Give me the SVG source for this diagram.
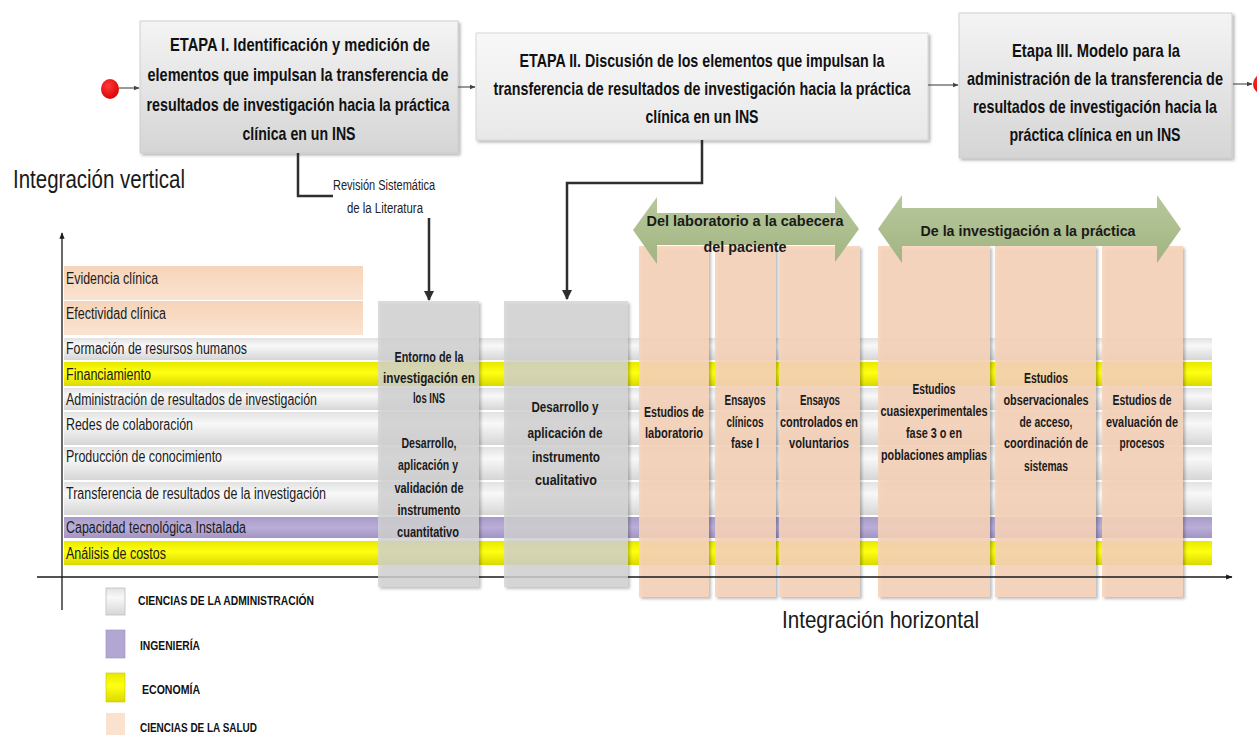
<svg xmlns="http://www.w3.org/2000/svg" width="1257" height="735" viewBox="0 0 1257 735">
  <style>
    .row { font-family: "Liberation Sans", Arial, sans-serif; font-size: 16px; fill: #1b1b1b; }
    .hd { font-family: "Liberation Sans Narrow", "Liberation Sans", Arial, sans-serif; font-weight: bold; font-size: 19px; fill: #111; text-anchor: middle; }
    .col { font-family: "Liberation Sans Narrow", "Liberation Sans", Arial, sans-serif; font-weight: bold; font-size: 14px; fill: #1a1a1a; text-anchor: middle; }
    .small { font-family: "Liberation Sans Narrow", "Liberation Sans", Arial, sans-serif; font-size: 14px; fill: #222; text-anchor: middle; }
    .leg { font-family: "Liberation Sans Narrow", "Liberation Sans", Arial, sans-serif; font-weight: bold; font-size: 13px; fill: #111; }
    .axis-t { font-family: "Liberation Sans", Arial, sans-serif; fill: #1a1a1a; }
    .link { fill: none; stroke: #2e2e2e; stroke-width: 2.5; }
    .thin { fill: none; stroke: #555; stroke-width: 1.2; }
    .axis { fill: none; stroke: #1a1a1a; stroke-width: 1.3; }
  </style>
  <defs>
    <linearGradient id="gBox" x1="0" y1="0" x2="0" y2="1">
      <stop offset="0" stop-color="#f4f4f4"/>
      <stop offset="1" stop-color="#d5d5d5"/>
    </linearGradient>
    <linearGradient id="gBoxLight" x1="0" y1="0" x2="0" y2="1">
      <stop offset="0" stop-color="#f8f8f8"/>
      <stop offset="1" stop-color="#e8e8e8"/>
    </linearGradient>
    <linearGradient id="gGray" x1="0" y1="0" x2="0" y2="1">
      <stop offset="0" stop-color="#e2e2e2"/>
      <stop offset="0.35" stop-color="#f8f8f8"/>
      <stop offset="1" stop-color="#d6d6d6"/>
    </linearGradient>
    <linearGradient id="gYellow" x1="0" y1="0" x2="0" y2="1">
      <stop offset="0" stop-color="#e9e900"/>
      <stop offset="0.45" stop-color="#ffff12"/>
      <stop offset="1" stop-color="#d9d900"/>
    </linearGradient>
    <linearGradient id="gPurple" x1="0" y1="0" x2="0" y2="1">
      <stop offset="0" stop-color="#a99bc9"/>
      <stop offset="0.5" stop-color="#b9aed8"/>
      <stop offset="1" stop-color="#a394c2"/>
    </linearGradient>
    <linearGradient id="gPeach" x1="0" y1="0" x2="0" y2="1">
      <stop offset="0" stop-color="#f7d4b8"/>
      <stop offset="1" stop-color="#fae3d2"/>
    </linearGradient>
    <linearGradient id="gGreen" x1="0" y1="0" x2="0" y2="1">
      <stop offset="0" stop-color="#b8c89c"/>
      <stop offset="1" stop-color="#a2b482"/>
    </linearGradient>
    <radialGradient id="gRed" cx="0.4" cy="0.35" r="0.7">
      <stop offset="0" stop-color="#ff3a3a"/>
      <stop offset="1" stop-color="#d80000"/>
    </radialGradient>
    <filter id="shadow" x="-10%" y="-10%" width="125%" height="130%">
      <feDropShadow dx="2" dy="2" stdDeviation="1.8" flood-color="#000" flood-opacity="0.3"/>
    </filter>
    <marker id="arrSmall" viewBox="0 0 10 10" refX="9" refY="5" markerWidth="5" markerHeight="5" orient="auto">
      <path d="M0,1 L10,5 L0,9 Z" fill="#444"/>
    </marker>
    <marker id="arrBig" viewBox="0 0 10 10" refX="9" refY="5" markerWidth="4" markerHeight="4" orient="auto">
      <path d="M0,0 L10,5 L0,10 Z" fill="#2e2e2e"/>
    </marker>
    <marker id="arrAxis" viewBox="0 0 10 10" refX="9" refY="5" markerWidth="5" markerHeight="5" orient="auto">
      <path d="M0,1 L10,5 L0,9 Z" fill="#1a1a1a"/>
    </marker>
  </defs>

  <rect width="1257" height="735" fill="#ffffff"/>

  <!-- Axis titles -->
  <text class="axis-t" x="13" y="188" font-size="26" textLength="172" lengthAdjust="spacingAndGlyphs">Integración vertical</text>
  <text class="axis-t" x="782" y="628" font-size="24" textLength="197" lengthAdjust="spacingAndGlyphs">Integración horizontal</text>

  <!-- Row bands -->
  <g id="rows">
    <g id="row-evidencia">
      <rect x="64" y="266" width="299" height="34" fill="url(#gPeach)"/>
      <text class="row" x="66" y="284" textLength="92" lengthAdjust="spacingAndGlyphs">Evidencia clínica</text>
    </g>
    <g id="row-efectividad">
      <rect x="64" y="301" width="299" height="34" fill="url(#gPeach)"/>
      <text class="row" x="66" y="319" textLength="100" lengthAdjust="spacingAndGlyphs">Efectividad clínica</text>
    </g>
    <g id="row-formacion">
      <rect x="64" y="338" width="1148" height="22" fill="url(#gGray)"/>
      <text class="row" x="66" y="354" textLength="181" lengthAdjust="spacingAndGlyphs">Formación de resursos humanos</text>
    </g>
    <g id="row-financiamiento">
      <rect x="64" y="362" width="1148" height="24" fill="url(#gYellow)"/>
      <text class="row" x="66" y="380" textLength="85" lengthAdjust="spacingAndGlyphs">Financiamiento</text>
    </g>
    <g id="row-administracion">
      <rect x="64" y="388" width="1148" height="22" fill="url(#gGray)"/>
      <text class="row" x="66" y="405" textLength="251" lengthAdjust="spacingAndGlyphs">Administración de resultados de investigación</text>
    </g>
    <g id="row-redes">
      <rect x="64" y="412" width="1148" height="33" fill="url(#gGray)"/>
      <text class="row" x="66" y="430" textLength="127" lengthAdjust="spacingAndGlyphs">Redes de colaboración</text>
    </g>
    <g id="row-produccion">
      <rect x="64" y="447" width="1148" height="33" fill="url(#gGray)"/>
      <text class="row" x="66" y="462" textLength="156" lengthAdjust="spacingAndGlyphs">Producción de conocimiento</text>
    </g>
    <g id="row-transferencia">
      <rect x="64" y="482" width="1148" height="33" fill="url(#gGray)"/>
      <text class="row" x="66" y="499" textLength="260" lengthAdjust="spacingAndGlyphs">Transferencia de resultados de la investigación</text>
    </g>
    <g id="row-capacidad">
      <rect x="64" y="517" width="1148" height="21" fill="url(#gPurple)"/>
      <text class="row" x="66" y="533" textLength="180" lengthAdjust="spacingAndGlyphs">Capacidad tecnológica Instalada</text>
    </g>
    <g id="row-costos">
      <rect x="64" y="541" width="1148" height="24" fill="url(#gYellow)"/>
      <text class="row" x="66" y="559" textLength="100" lengthAdjust="spacingAndGlyphs">Análisis de costos</text>
    </g>
  </g>

  <!-- Health-science study columns -->
  <g id="study-columns" fill="#f7d3b9" fill-opacity="0.88" filter="url(#shadow)">
    <rect x="639" y="246" width="70" height="351"/>
    <rect x="715" y="246" width="61" height="351"/>
    <rect x="779" y="246" width="81" height="351"/>
    <rect x="878" y="246" width="112" height="351"/>
    <rect x="995" y="246" width="101" height="351"/>
    <rect x="1102" y="246" width="81" height="351"/>
  </g>

  <!-- Axes -->
  <g id="axes">
    <line class="axis" x1="37" y1="577" x2="1232" y2="577" marker-end="url(#arrAxis)"/>
    <line class="axis" x1="62" y1="610" x2="62" y2="233" marker-end="url(#arrAxis)"/>
  </g>

  <!-- Method columns -->
  <g id="col-entorno">
    <rect x="378" y="301" width="101" height="286" fill="#d3d3d3" fill-opacity="0.8" filter="url(#shadow)"/>
    <text class="col" x="429" y="362" textLength="69" lengthAdjust="spacingAndGlyphs">Entorno de la</text>
    <text class="col" x="429" y="383" textLength="92" lengthAdjust="spacingAndGlyphs">investigación en</text>
    <text class="col" x="429" y="403" textLength="32" lengthAdjust="spacingAndGlyphs">los INS</text>
    <text class="col" x="429" y="448" textLength="55" lengthAdjust="spacingAndGlyphs">Desarrollo,</text>
    <text class="col" x="428" y="470" textLength="60" lengthAdjust="spacingAndGlyphs">aplicación y</text>
    <text class="col" x="429" y="493" textLength="69" lengthAdjust="spacingAndGlyphs">validación de</text>
    <text class="col" x="429" y="515" textLength="63" lengthAdjust="spacingAndGlyphs">instrumento</text>
    <text class="col" x="428" y="537" textLength="62" lengthAdjust="spacingAndGlyphs">cuantitativo</text>
  </g>
  <g id="col-cualitativo">
    <rect x="504" y="301" width="124" height="286" fill="#d3d3d3" fill-opacity="0.8" filter="url(#shadow)"/>
    <text class="col" x="565" y="412" font-size="15" textLength="67" lengthAdjust="spacingAndGlyphs">Desarrollo y</text>
    <text class="col" x="565" y="438" font-size="15" textLength="75" lengthAdjust="spacingAndGlyphs">aplicación de</text>
    <text class="col" x="566" y="462" font-size="15" textLength="68" lengthAdjust="spacingAndGlyphs">instrumento</text>
    <text class="col" x="566" y="485" font-size="15" textLength="62" lengthAdjust="spacingAndGlyphs">cualitativo</text>
  </g>

  <!-- Study column labels -->
  <g id="col-laboratorio">
    <text class="col" x="674" y="417" textLength="60" lengthAdjust="spacingAndGlyphs">Estudios de</text>
    <text class="col" x="674" y="438" textLength="58" lengthAdjust="spacingAndGlyphs">laboratorio</text>
  </g>
  <g id="col-fase1">
    <text class="col" x="745" y="405" textLength="41" lengthAdjust="spacingAndGlyphs">Ensayos</text>
    <text class="col" x="745" y="427" textLength="37" lengthAdjust="spacingAndGlyphs">clínicos</text>
    <text class="col" x="745" y="448" textLength="28" lengthAdjust="spacingAndGlyphs">fase I</text>
  </g>
  <g id="col-voluntarios">
    <text class="col" x="820" y="405" textLength="40" lengthAdjust="spacingAndGlyphs">Ensayos</text>
    <text class="col" x="819" y="427" textLength="78" lengthAdjust="spacingAndGlyphs">controlados en</text>
    <text class="col" x="819" y="448" textLength="60" lengthAdjust="spacingAndGlyphs">voluntarios</text>
  </g>
  <g id="col-cuasiexperimentales">
    <text class="col" x="934" y="394" textLength="43" lengthAdjust="spacingAndGlyphs">Estudios</text>
    <text class="col" x="934" y="416" textLength="107" lengthAdjust="spacingAndGlyphs">cuasiexperimentales</text>
    <text class="col" x="934" y="438" textLength="56" lengthAdjust="spacingAndGlyphs">fase 3 o en</text>
    <text class="col" x="934" y="460" textLength="106" lengthAdjust="spacingAndGlyphs">poblaciones amplias</text>
  </g>
  <g id="col-observacionales">
    <text class="col" x="1046" y="383" textLength="44" lengthAdjust="spacingAndGlyphs">Estudios</text>
    <text class="col" x="1046" y="405" textLength="85" lengthAdjust="spacingAndGlyphs">observacionales</text>
    <text class="col" x="1046" y="427" textLength="53" lengthAdjust="spacingAndGlyphs">de acceso,</text>
    <text class="col" x="1046" y="448" textLength="84" lengthAdjust="spacingAndGlyphs">coordinación de</text>
    <text class="col" x="1046" y="471" textLength="44" lengthAdjust="spacingAndGlyphs">sistemas</text>
  </g>
  <g id="col-procesos">
    <text class="col" x="1142" y="405" textLength="59" lengthAdjust="spacingAndGlyphs">Estudios de</text>
    <text class="col" x="1142" y="427" textLength="72" lengthAdjust="spacingAndGlyphs">evaluación de</text>
    <text class="col" x="1142" y="448" textLength="45" lengthAdjust="spacingAndGlyphs">procesos</text>
  </g>

  <!-- Double-headed banners -->
  <g id="banner-laboratorio">
    <polygon points="633,230 657,197 657,213 835,213 835,196 859,229 835,262 835,245 657,245 657,264" fill="url(#gGreen)"/>
    <text class="col" x="745" y="226" font-size="17" textLength="197" lengthAdjust="spacingAndGlyphs">Del laboratorio a la cabecera</text>
    <text class="col" x="745" y="252" font-size="17" textLength="83" lengthAdjust="spacingAndGlyphs">del paciente</text>
  </g>
  <g id="banner-practica">
    <polygon points="878,229 902,195 902,208 1157,208 1157,195 1181,229 1157,263 1157,246 902,246 902,263" fill="url(#gGreen)"/>
    <text class="col" x="1028" y="236" font-size="17" textLength="215" lengthAdjust="spacingAndGlyphs">De la investigación a la práctica</text>
  </g>

  <!-- Stage boxes -->
  <g id="etapa-1">
    <rect x="140" y="21" width="318" height="132" fill="url(#gBox)" stroke="#c8c8c8" stroke-width="0.8" filter="url(#shadow)"/>
    <text class="hd" x="300" y="51" textLength="260" lengthAdjust="spacingAndGlyphs">ETAPA I. Identificación y medición de</text>
    <text class="hd" x="298" y="81" textLength="301" lengthAdjust="spacingAndGlyphs">elementos que impulsan la transferencia de</text>
    <text class="hd" x="298" y="111" textLength="303" lengthAdjust="spacingAndGlyphs">resultados de investigación  hacia la práctica</text>
    <text class="hd" x="299" y="140" textLength="113" lengthAdjust="spacingAndGlyphs">clínica en un INS</text>
  </g>
  <g id="etapa-2">
    <rect x="476" y="33" width="452" height="107" fill="url(#gBoxLight)" stroke="#d0d0d0" stroke-width="0.8" filter="url(#shadow)"/>
    <text class="hd" x="702" y="67" textLength="365" lengthAdjust="spacingAndGlyphs">ETAPA II. Discusión de los elementos que impulsan la</text>
    <text class="hd" x="702" y="95" textLength="417" lengthAdjust="spacingAndGlyphs">transferencia de resultados de investigación hacia la práctica</text>
    <text class="hd" x="702" y="123" textLength="113" lengthAdjust="spacingAndGlyphs">clínica en un INS</text>
  </g>
  <g id="etapa-3">
    <rect x="959" y="13" width="273" height="145" fill="url(#gBox)" stroke="#c8c8c8" stroke-width="0.8" filter="url(#shadow)"/>
    <text class="hd" x="1096" y="57" textLength="168" lengthAdjust="spacingAndGlyphs">Etapa III. Modelo para la</text>
    <text class="hd" x="1095" y="85" textLength="256" lengthAdjust="spacingAndGlyphs">administración de la transferencia de</text>
    <text class="hd" x="1095" y="113" textLength="244" lengthAdjust="spacingAndGlyphs">resultados de investigación hacia la</text>
    <text class="hd" x="1095" y="141" textLength="171" lengthAdjust="spacingAndGlyphs">práctica clínica en un INS</text>
  </g>

  <!-- Start / end markers -->
  <g id="inicio">
    <ellipse cx="110" cy="89" rx="9" ry="10" fill="url(#gRed)"/>
  </g>
  <g id="fin">
    <circle cx="1263" cy="84" r="10" fill="url(#gRed)"/>
  </g>

  <!-- Connectors -->
  <g id="connectors">
    <line class="thin" x1="119" y1="88" x2="139" y2="88" marker-end="url(#arrSmall)"/>
    <line class="thin" x1="458" y1="87" x2="475" y2="87" marker-end="url(#arrSmall)"/>
    <line class="thin" x1="928" y1="85" x2="958" y2="85" marker-end="url(#arrSmall)"/>
    <line class="thin" x1="1233" y1="84" x2="1252" y2="84" marker-end="url(#arrSmall)"/>
    <path class="link" d="M298,153 V196 H333"/>
    <path class="link" d="M429,218 V300" marker-end="url(#arrBig)"/>
    <path class="link" d="M702,140 V183 H567 V299" marker-end="url(#arrBig)"/>
    <text class="small" x="384" y="190" textLength="102" lengthAdjust="spacingAndGlyphs">Revisión Sistemática</text>
    <text class="small" x="385" y="213" textLength="76" lengthAdjust="spacingAndGlyphs">de la Literatura</text>
  </g>

  <!-- Legend -->
  <g id="legend">
    <rect x="106" y="588" width="19" height="27" fill="url(#gGray)" stroke="#bdbdbd" stroke-width="0.8"/>
    <text class="leg" x="138" y="605" textLength="176" lengthAdjust="spacingAndGlyphs">CIENCIAS DE LA ADMINISTRACIÓN</text>
    <rect x="106" y="630" width="19" height="28" fill="#b2a6d3" stroke="#9a8fbc" stroke-width="0.6"/>
    <text class="leg" x="140" y="650" textLength="60" lengthAdjust="spacingAndGlyphs">INGENIERÍA</text>
    <rect x="106" y="673" width="19" height="29" fill="url(#gYellow)" stroke="#c8c800" stroke-width="0.6"/>
    <text class="leg" x="142" y="694" textLength="58" lengthAdjust="spacingAndGlyphs">ECONOMÍA</text>
    <rect x="106" y="713" width="19" height="28" fill="#fbe2cf"/>
    <text class="leg" x="140" y="732" textLength="117" lengthAdjust="spacingAndGlyphs">CIENCIAS DE LA SALUD</text>
  </g>
</svg>
